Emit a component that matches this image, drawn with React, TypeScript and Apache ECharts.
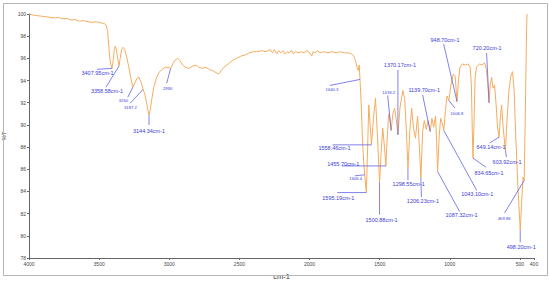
import React, { useEffect, useRef } from "react";
import * as echarts from "echarts";

// IR spectrum: wavenumber (cm-1) and transmittance (%T)
const wavenumbers = [
  4000, 3970, 3940, 3910, 3880, 3850, 3820, 3790, 3760, 3730, 3700, 3670, 3640, 3610, 3580, 3550, 3520, 3490, 3465, 3450,
  3440, 3432, 3424, 3416, 3407.95, 3400, 3392, 3385, 3377, 3368, 3358.58, 3350, 3340, 3330, 3318, 3305, 3290, 3275, 3260,
  3245, 3230, 3216, 3200, 3187.2, 3175, 3162, 3152, 3144.34, 3135, 3125, 3110, 3090, 3070, 3050, 3030, 3010, 2990, 2975,
  2955, 2940, 2925, 2905, 2885, 2860, 2835, 2810, 2790, 2765, 2740, 2715, 2690, 2665, 2647, 2630, 2610, 2580, 2550, 2520,
  2490, 2460, 2430, 2400, 2370, 2340, 2310, 2280, 2265, 2250, 2235, 2220, 2205, 2190, 2175, 2160, 2145, 2130, 2115, 2100,
  2080, 2060, 2040, 2020, 2000, 1985, 1975, 1960, 1945, 1925, 1900, 1870, 1840, 1810, 1780, 1750, 1720, 1700, 1685, 1672,
  1662, 1652, 1646, 1640.3, 1632, 1624, 1615, 1606.4, 1600, 1595.19, 1588, 1578, 1568, 1558.46, 1545, 1530, 1516, 1500.88,
  1490, 1478, 1466, 1455.7, 1446, 1436, 1428, 1418.2, 1406, 1394, 1383, 1370.17, 1355, 1335, 1322, 1310, 1298.55, 1285,
  1272, 1258, 1245, 1230, 1218, 1206.23, 1194, 1182, 1168, 1155, 1139.7, 1128, 1115, 1102, 1094, 1087.32, 1076, 1065, 1055,
  1043.1, 1032, 1020, 1006.8, 992, 975, 962, 948.7, 938, 928, 912, 890, 870, 855, 846, 840, 834.65, 828, 820, 810, 790,
  770, 752, 740, 730, 720.2, 712, 702, 692, 681, 670, 660, 649.14, 640, 631, 620, 603.92, 592, 578, 565, 553, 542, 530,
  515, 498.2, 488, 478, 469.86, 462, 455, 450,
];
const transmittance = [
  100, 99.9, 99.85, 99.8, 99.75, 99.7, 99.65, 99.7, 99.55, 99.6, 99.45, 99.5, 99.35, 99.4, 99.3, 99.25, 99.3, 99.2, 99.15, 99.0,
  98.5, 97.2, 96.0, 95.4, 95.1, 95.8, 96.8, 97.1, 96.8, 96.0, 95.3, 96.0, 96.8, 97.0, 96.8, 96.2, 95.3, 94.3, 93.4,
  93.8, 94.2, 94.3, 93.8, 93.2, 92.8, 92.0, 91.3, 90.9, 91.4, 92.3, 93.4, 94.3, 94.8, 95.0, 95.2, 95.2, 95.1, 95.5,
  95.9, 96.0, 95.8, 95.4, 95.2, 95.1, 95.3, 95.4, 95.2, 95.1, 95.2, 95.0, 94.9, 94.7, 94.6, 94.9, 95.2, 95.5, 95.8, 96.0,
  96.2, 96.3, 96.5, 96.6, 96.6, 96.7, 96.6, 96.8, 96.5, 96.8, 96.4, 96.7, 96.5, 96.7, 96.4, 96.6, 96.5, 96.7, 96.4, 96.6,
  96.5, 96.6, 96.5, 96.7, 96.5, 96.2, 96.6, 96.5, 96.7, 96.5, 96.6, 96.5, 96.6, 96.5, 96.6, 96.5, 96.5, 96.4, 96.2, 95.8,
  95.2, 94.9, 95.4, 94.1, 92.0, 89.0, 86.8, 85.5, 84.5, 83.9, 87.0, 91.8, 90.0, 88.2, 90.5, 92.4, 89.0, 84.8,
  87.5, 89.7, 88.0, 86.3, 89.0, 91.0, 90.6, 89.5, 91.0, 91.5, 90.6, 89.1, 91.6, 93.1, 92.4, 89.5, 86.1, 89.5,
  91.5, 89.6, 88.8, 90.8, 88.3, 85.2, 89.4, 90.4, 89.6, 90.4, 89.4, 90.6, 89.8, 90.8, 88.5, 85.8, 89.0, 90.6, 90.2,
  89.5, 91.2, 92.6, 92.2, 93.6, 94.6, 94.4, 92.1, 94.0, 95.2, 95.5, 95.4, 95.5, 95.2, 93.5, 89.5, 87.0, 90.0, 94.2, 95.2, 95.5,
  95.4, 95.6, 95.0, 93.8, 92.0, 93.6, 94.3, 93.3, 93.6, 91.8, 89.8, 88.9, 90.6, 91.8, 89.8, 87.7, 90.5, 93.2, 94.4, 94.8, 93.2, 89.0,
  84.5, 80.5, 83.0, 85.3, 85.0, 91.0, 97.0, 100,
];

const xTickValues = [4000, 3500, 3000, 2500, 2000, 1500, 1000, 500, 400];

// Peak annotations
const peakWavenumbers = [
  3407.95, 3358.58, 3260, 3187.2, 3144.34, 2990, 1640.3, 1558.46, 1455.7, 1606.4, 1595.19, 1500.88, 1418.2, 1370.17,
  1139.7, 1298.55, 1206.23, 1087.32, 1043.1, 1006.8, 948.7, 834.65, 720.2, 649.14, 603.92, 469.86, 498.2,
];
const peakLabels = [
  "3407.95cm-1", "3358.58cm-1", "3260", "3187.2", "3144.34cm-1", "2990", "1640.3", "1558.46cm-1", "1455.70cm-1",
  "1606.4", "1595.19cm-1", "1500.88cm-1", "1418.2", "1370.17cm-1", "1139.70cm-1", "1298.55cm-1", "1206.23cm-1",
  "1087.32cm-1", "1043.10cm-1", "1006.8", "948.70cm-1", "834.65cm-1", "720.20cm-1", "649.14cm-1", "603.92cm-1",
  "469.86", "498.20cm-1",
];

// layout of each annotation relative to its peak pixel: [lineDx, lineDy, textDx, textDy, small]
const labelLayout: number[][] = [
  [-15, 1, -14.5, 5, 0],
  [-13, 21, -12, 25, 0],
  [-5, 10, -9.4, 13, 1],
  [-13, 14, -12.6, 17.6, 1],
  [0, 10, 0, 16, 0],
  [-4, 15, -3, 20, 1],
  [-30, 6, -28, 10, 1],
  [-39, 0, -37, 3, 0],
  [-44, 0, -42.7, -2, 0],
  [-10, 1, -9, 4, 1],
  [-29, 0, -28, 5, 0],
  [0, 32, 2, 37.5, 0],
  [-3.5, -35, -2.5, -38, 1],
  [0, -65, 2, -70, 0],
  [-7.6, -36.6, -6, -41.6, 0],
  [0, 12, 0.7, 16, 0],
  [0.5, 19, 2, 23, 0],
  [22, 40, 24, 43.5, 0],
  [33, 60, 33.4, 63.6, 0],
  [6, 7.5, 8, 12.5, 1],
  [-13.4, -57.6, -12, -61.6, 0],
  [13, 9, 16, 15, 0],
  [-2.5, -49.7, -2, -54.7, 0],
  [-9.4, 6, -8, 9.4, 0],
  [1, 6.6, 1.7, 11.6, 0],
  [-19.6, 32.6, -20, 38.6, 1],
  [0, 12, 1, 17, 0],
];

const FONT = "'Liberation Sans', Arial, sans-serif";

export default function App() {
  const ref = useRef<HTMLDivElement>(null);
  useEffect(() => {
    if (!ref.current) return;
    const chart = echarts.init(ref.current, null, { renderer: "svg" });
    chart.setOption({
      animation: false,
      backgroundColor: "#ffffff",
      textStyle: { fontFamily: FONT },
      grid: { left: 29, right: 16, top: 14, bottom: 28, outerBoundsMode: "none" },
      xAxis: {
        type: "value",
        min: 400,
        max: 4000,
        inverse: true,
        name: "cm-1",
        nameLocation: "middle",
        nameGap: 14,
        nameTextStyle: { fontSize: 7.5, color: "#333", fontFamily: FONT },
        axisLine: { show: true, lineStyle: { color: "#666", width: 1 } },
        axisTick: { show: true, customValues: xTickValues, length: 2, lineStyle: { color: "#666" } },
        axisLabel: {
          customValues: xTickValues,
          fontSize: 5,
          color: "#444",
          margin: 3,
          fontFamily: FONT,
          formatter: (v: number) => String(v),
        },
        splitLine: { show: false },
      },
      yAxis: {
        type: "value",
        min: 78,
        max: 100,
        interval: 2,
        name: "%T",
        nameLocation: "middle",
        nameRotate: 90,
        nameGap: 21,
        nameTextStyle: { fontSize: 6, color: "#333", fontFamily: FONT },
        axisLine: { show: true, lineStyle: { color: "#666", width: 1 } },
        axisTick: { show: true, length: 2, lineStyle: { color: "#666" } },
        axisLabel: { fontSize: 5, color: "#444", margin: 3, fontFamily: FONT, formatter: (v: number) => String(v) },
        splitLine: { show: false },
      },
      series: [
        {
          type: "line",
          symbol: "none",
          silent: true,
          lineStyle: { color: "#f5ac5e", width: 1 },
          data: wavenumbers.map((w, i) => [w, transmittance[i]]),
        },
      ],
    });

    const graphics: any[] = [
      {
        type: "rect",
        shape: { x: 3.5, y: 3.5, width: 544, height: 272 },
        style: { fill: "none", stroke: "#b5b5b5", lineWidth: 1 },
        silent: true,
        z: 1,
      },
    ];
    peakWavenumbers.forEach((w, i) => {
      const t = transmittance[wavenumbers.indexOf(w)];
      const p = chart.convertToPixel({ gridIndex: 0 }, [w, t]) as number[];
      const [ldx, ldy, tdx, tdy, small] = labelLayout[i];
      graphics.push({
        type: "line",
        shape: { x1: p[0], y1: p[1], x2: p[0] + ldx, y2: p[1] + ldy },
        style: { stroke: "#6262e8", lineWidth: 0.8 },
        silent: true,
        z: 10,
      });
      graphics.push({
        type: "text",
        x: p[0] + tdx,
        y: p[1] + tdy,
        style: {
          text: peakLabels[i],
          fill: "#3c3cd8",
          fontSize: small ? 4.2 : 5.5,
          fontFamily: FONT,
          align: "center",
          verticalAlign: "middle",
        },
        silent: true,
        z: 11,
      });
    });
    chart.setOption({ graphic: graphics });

    return () => chart.dispose();
  }, []);
  return (
    <div
      ref={ref}
      style={{ position: "absolute", left: 0, top: 0, width: 550, height: 286 }}
    />
  );
}
